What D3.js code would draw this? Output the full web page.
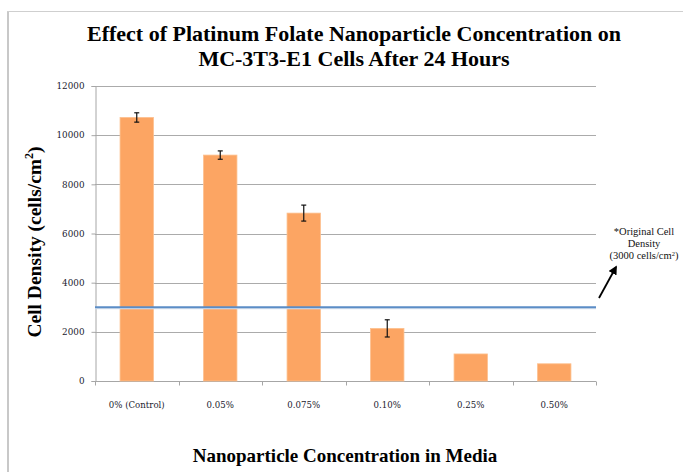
<!DOCTYPE html>
<html>
<head>
<meta charset="utf-8">
<script src="https://cdn.jsdelivr.net/npm/d3@7"></script>
<style>
  html, body { margin: 0; padding: 0; background: #fff; }
  svg { display: block; }
</style>
</head>
<body>
<svg id="chart" width="683" height="472"></svg>
<script>
// Cell density per nanoparticle concentration (cells/cm²)
const categories = ["0% (Control)", "0.05%", "0.075%", "0.10%", "0.25%", "0.50%"];
const density = [10720, 9190, 6830, 2140, 1100, 700];
const errors = [190, 170, 325, 350, 0, 0];
const yTicks = [0, 2000, 4000, 6000, 8000, 10000, 12000];
const originalDensity = 3000;

const svg = d3.select("#chart");
const serif = "'Liberation Serif', 'DejaVu Serif', serif";
const tickFont = "'DejaVu Serif', 'Liberation Serif', serif";

const plotLeft = 95, plotRight = 596, plotTop = 86, plotBottom = 381;

const x = d3.scaleBand().domain(categories).range([plotLeft, plotRight]).padding(0);
const y = d3.scaleLinear().domain([0, 12000]).range([plotBottom, plotTop]);

// Frame
svg.append("line").attr("x1", 8).attr("x2", 8).attr("y1", 11).attr("y2", 472)
  .attr("stroke", "#c8c8c8").attr("stroke-width", 2);
svg.append("line").attr("x1", 7).attr("x2", 683).attr("y1", 11.5).attr("y2", 11.5)
  .attr("stroke", "#cfcfcf").attr("stroke-width", 1);

// Gridlines
svg.append("g").selectAll("line").data(yTicks.filter(d => d > 0)).join("line")
  .attr("x1", plotLeft).attr("x2", plotRight)
  .attr("y1", d => Math.round(y(d)) + 0.5).attr("y2", d => Math.round(y(d)) + 0.5)
  .attr("stroke", "#ababab").attr("stroke-width", 1);

// Y axis
const yAxis = svg.append("g").attr("transform", `translate(${plotLeft + 0.5},0)`)
  .call(d3.axisLeft(y).tickValues(yTicks).tickSize(4).tickPadding(7).tickFormat(d3.format("d")));
yAxis.select(".domain").attr("stroke", "#a6a6a6");
yAxis.selectAll(".tick line").attr("stroke", "#a6a6a6");
yAxis.selectAll("text").attr("font-family", tickFont).attr("font-size", 8.8).attr("fill", "#1a1a2e");

// X axis with ticks at band boundaries
const xAxisG = svg.append("g").attr("transform", `translate(0,${plotBottom + 0.5})`);
xAxisG.append("line").attr("x1", plotLeft).attr("x2", plotRight).attr("stroke", "#a6a6a6");
const bounds = categories.map(c => x(c)).concat([plotRight]);
xAxisG.selectAll("line.tk").data(bounds).join("line").attr("class", "tk")
  .attr("x1", d => Math.round(d) + 0.5).attr("x2", d => Math.round(d) + 0.5)
  .attr("y1", 0).attr("y2", 4).attr("stroke", "#a6a6a6");
xAxisG.selectAll("text").data(categories).join("text")
  .attr("x", d => x(d) + x.bandwidth() / 2).attr("y", 26)
  .attr("text-anchor", "middle")
  .attr("font-family", tickFont).attr("font-size", 8.6).attr("fill", "#1a1a2e")
  .text(d => d);

// Bars
const barW = x.bandwidth() * 0.4;
svg.append("g").selectAll("rect").data(categories).join("rect")
  .attr("x", d => x(d) + (x.bandwidth() - barW) / 2)
  .attr("y", (d, i) => y(density[i]))
  .attr("width", barW)
  .attr("height", (d, i) => plotBottom - y(density[i]))
  .attr("fill", "#fca563")
  .attr("stroke", "#fdc08f").attr("stroke-width", 0.8);

// Error bars
const eb = svg.append("g").attr("stroke", "#111").attr("stroke-width", 1.2);
categories.forEach((c, i) => {
  if (!errors[i]) return;
  const cx = x(c) + x.bandwidth() / 2;
  const y1 = y(density[i] + errors[i]), y2 = y(density[i] - errors[i]);
  eb.append("line").attr("x1", cx).attr("x2", cx).attr("y1", y1).attr("y2", y2);
  eb.append("line").attr("x1", cx - 2.5).attr("x2", cx + 2.5).attr("y1", y1).attr("y2", y1);
  eb.append("line").attr("x1", cx - 2.5).attr("x2", cx + 2.5).attr("y1", y2).attr("y2", y2);
});

// Original density reference line
svg.append("line").attr("x1", plotLeft).attr("x2", plotRight)
  .attr("y1", y(originalDensity) + 1.3).attr("y2", y(originalDensity) + 1.3)
  .attr("stroke", "#dbe4ef").attr("stroke-width", 1.2);
svg.append("line").attr("x1", plotLeft).attr("x2", plotRight)
  .attr("y1", y(originalDensity)).attr("y2", y(originalDensity))
  .attr("stroke", "#5b8dc6").attr("stroke-width", 1.8);

// Annotation
svg.append("defs").append("marker").attr("id", "ah")
  .attr("viewBox", "0 0 10 10").attr("refX", 8).attr("refY", 5)
  .attr("markerWidth", 5).attr("markerHeight", 5).attr("orient", "auto")
  .append("path").attr("d", "M0,0 L10,5 L0,10 Z").attr("fill", "#000");
svg.append("line").attr("x1", 599).attr("y1", 298).attr("x2", 616).attr("y2", 267)
  .attr("stroke", "#000").attr("stroke-width", 1.8).attr("marker-end", "url(#ah)");
const ann = svg.append("text").attr("text-anchor", "middle")
  .attr("font-family", serif).attr("font-size", 10.5).attr("fill", "#111");
ann.append("tspan").attr("x", 644).attr("y", 235).text("*Original Cell");
ann.append("tspan").attr("x", 644).attr("y", 247).text("Density");
const l3 = ann.append("tspan").attr("x", 644).attr("y", 259);
l3.append("tspan").text("(3000 cells/cm");
l3.append("tspan").attr("font-size", 6.5).attr("dy", -3.5).text("2");
l3.append("tspan").attr("dy", 3.5).text(")");

// Title
const title = svg.append("text").attr("text-anchor", "middle")
  .attr("font-family", serif).attr("font-weight", "bold").attr("font-size", 22).attr("fill", "#000");
title.append("tspan").attr("x", 354).attr("y", 41).text("Effect of Platinum Folate Nanoparticle Concentration on");
title.append("tspan").attr("x", 354).attr("y", 66).text("MC-3T3-E1 Cells After 24 Hours");

// Axis titles
svg.append("text").attr("x", 345).attr("y", 462).attr("text-anchor", "middle")
  .attr("font-family", serif).attr("font-weight", "bold").attr("font-size", 19).attr("fill", "#000")
  .text("Nanoparticle Concentration in Media");

const yt = svg.append("text").attr("transform", "translate(41,242) rotate(-90)")
  .attr("text-anchor", "middle")
  .attr("font-family", serif).attr("font-weight", "bold").attr("font-size", 19.5).attr("fill", "#000");
yt.append("tspan").text("Cell Density (cells/cm");
yt.append("tspan").attr("font-size", 12).attr("dy", -8).text("2");
yt.append("tspan").attr("dy", 8).text(")");
</script>
</body>
</html>
